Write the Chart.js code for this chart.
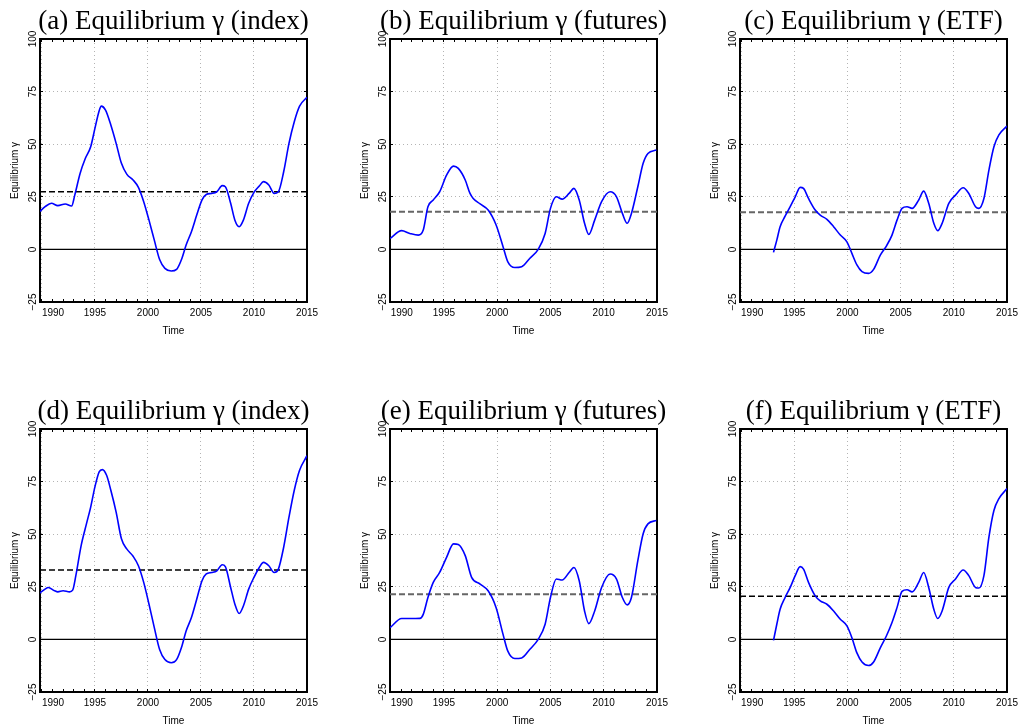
<!DOCTYPE html>
<html>
<head>
<meta charset="utf-8">
<script src="https://cdn.jsdelivr.net/npm/chart.js@4/dist/chart.umd.min.js"></script>
<style>
html, body { margin: 0; padding: 0; background: #fff; overflow: hidden; }
#page { position: relative; width: 1021px; height: 727px; }
.panel { position: absolute; }
</style>
</head>
<body>
<div id="page">
  <canvas class="panel" id="panelA" width="347" height="342" style="left:0px;top:0px"></canvas>
  <canvas class="panel" id="panelB" width="347" height="342" style="left:350px;top:0px"></canvas>
  <canvas class="panel" id="panelC" width="347" height="342" style="left:700px;top:0px"></canvas>
  <canvas class="panel" id="panelD" width="347" height="342" style="left:0px;top:390px"></canvas>
  <canvas class="panel" id="panelE" width="347" height="342" style="left:350px;top:390px"></canvas>
  <canvas class="panel" id="panelF" width="347" height="342" style="left:700px;top:390px"></canvas>
</div>
<script>
const xTicks = [1990, 1991, 1992, 1993, 1994, 1995, 1996, 1997, 1998, 1999, 2000, 2001, 2002, 2003, 2004, 2005, 2006, 2007, 2008, 2009, 2010, 2011, 2012, 2013, 2014, 2015];
const yTicks = [-25, 0, 25, 50, 75, 100];
const xMax = 2015;

// (a) index
const yearsA = [1989.8, 1990.3, 1990.9, 1991.5, 1992.2, 1992.8, 1993.1, 1993.6, 1994.1, 1994.6, 1995.0, 1995.4, 1995.6, 1996.0, 1996.5, 1997.0, 1997.5, 1998.0, 1998.6, 1999.1, 1999.6, 2000.1, 2000.6, 2001.1, 2001.6, 2002.2, 2002.7, 2003.2, 2003.6, 2004.1, 2004.6, 2005.1, 2005.5, 2006.0, 2006.5, 2007.0, 2007.3, 2007.8, 2008.2, 2008.6, 2009.0, 2009.5, 2010.0, 2010.5, 2010.9, 2011.4, 2011.9, 2012.3, 2012.8, 2013.3, 2013.8, 2014.3, 2015.0];
const gammaA = [18.0, 20.3, 21.9, 20.8, 21.6, 20.6, 25.8, 36.1, 43.3, 48.8, 57.5, 65.9, 68.1, 66.2, 59.1, 50.4, 40.9, 35.8, 33.0, 29.5, 22.7, 13.9, 4.4, -4.8, -9.0, -10.3, -9.5, -4.3, 2.1, 8.4, 16.3, 23.5, 26.1, 26.6, 27.4, 30.3, 29.8, 21.9, 13.9, 10.8, 13.9, 21.9, 27.1, 30.1, 32.2, 30.6, 26.6, 27.4, 36.9, 50.4, 60.7, 68.1, 72.3];
const meanA = 27.4;

// (b) futures
const yearsB = [1989.94, 1991.03, 1991.8, 1992.6, 1993.06, 1993.5, 1994.0, 1994.6, 1995.25, 1995.9, 1996.35, 1997.0, 1997.45, 1997.75, 1998.4, 1999.15, 1999.9, 2000.55, 2001.0, 2001.65, 2002.3, 2003.05, 2003.85, 2004.5, 2005.0, 2005.55, 2006.1, 2006.75, 2007.2, 2007.7, 2008.2, 2008.6, 2009.15, 2009.8, 2010.6, 2011.2, 2011.75, 2012.2, 2012.6, 2013.2, 2013.7, 2014.15, 2014.94];
const gammaB = [5.2, 8.9, 7.6, 6.8, 9.2, 20.3, 23.5, 27.4, 35.3, 39.6, 38.5, 33.0, 26.6, 24.2, 21.6, 18.7, 11.6, 1.3, -5.9, -8.6, -8.2, -4.3, 0.0, 7.6, 19.5, 25.0, 23.9, 26.6, 29.0, 23.5, 12.4, 7.1, 13.9, 22.7, 27.4, 25.0, 17.1, 12.4, 17.1, 29.8, 40.9, 45.6, 47.2];
const meanB = 17.9;

// (c) ETF
const yearsC = [1993.05, 1993.36, 1993.67, 1994.14, 1994.62, 1995.09, 1995.56, 1995.87, 1996.34, 1996.97, 1997.44, 1998.07, 1998.7, 1999.33, 1999.95, 2000.42, 2000.89, 2001.37, 2001.99, 2002.46, 2003.09, 2003.66, 2004.19, 2004.66, 2005.13, 2005.6, 2006.08, 2006.7, 2007.17, 2007.64, 2008.12, 2008.49, 2008.9, 2009.53, 2010.16, 2010.88, 2011.41, 2012.04, 2012.36, 2012.83, 2013.3, 2013.77, 2014.24, 2015.0];
const gammaC = [-1.4, 4.4, 10.8, 15.8, 20.3, 25.0, 29.5, 29.0, 24.2, 18.7, 16.3, 14.3, 10.8, 6.8, 3.6, -1.9, -7.4, -10.6, -11.4, -9.5, -2.7, 1.6, 6.8, 13.9, 19.5, 20.3, 19.5, 23.5, 27.7, 21.9, 12.4, 8.9, 12.4, 21.9, 25.8, 29.3, 26.6, 20.3, 19.5, 24.2, 37.7, 48.8, 54.4, 58.6];
const meanC = 17.6;

// (d) index
const yearsD = [1989.8, 1990.3, 1990.6, 1991.2, 1991.5, 1992.0, 1992.6, 1992.9, 1993.2, 1993.7, 1994.2, 1994.6, 1995.0, 1995.4, 1995.7, 1996.1, 1996.5, 1997.0, 1997.5, 1998.0, 1998.6, 1999.1, 1999.6, 2000.1, 2000.6, 2001.1, 2001.6, 2002.2, 2002.7, 2003.2, 2003.6, 2004.1, 2004.6, 2005.1, 2005.5, 2006.0, 2006.5, 2007.0, 2007.3, 2007.8, 2008.2, 2008.6, 2009.0, 2009.5, 2010.0, 2010.5, 2010.9, 2011.4, 2011.9, 2012.3, 2012.8, 2013.3, 2013.8, 2014.3, 2015.0];
const gammaD = [22.0, 23.9, 24.7, 23.1, 22.6, 23.1, 22.6, 23.4, 30.3, 44.6, 54.9, 62.9, 72.5, 79.6, 80.7, 78.0, 70.9, 60.5, 47.8, 43.0, 39.5, 35.0, 27.1, 16.7, 5.6, -4.8, -9.6, -11.1, -9.6, -3.2, 4.0, 10.4, 19.1, 27.9, 31.1, 31.8, 32.6, 35.5, 34.6, 24.7, 16.7, 12.3, 15.9, 23.9, 29.5, 34.2, 36.6, 35.0, 31.8, 33.4, 43.8, 58.1, 70.9, 80.4, 87.3];
const meanD = 33.0;

// (e) futures
const yearsE = [1989.94, 1991.03, 1991.8, 1992.75, 1993.06, 1993.5, 1994.0, 1994.6, 1995.25, 1995.9, 1996.35, 1997.0, 1997.6, 1998.4, 1999.15, 1999.9, 2000.55, 2001.0, 2001.65, 2002.3, 2003.05, 2003.85, 2004.5, 2005.0, 2005.55, 2006.1, 2006.75, 2007.2, 2007.7, 2008.2, 2008.6, 2009.15, 2009.8, 2010.6, 2011.2, 2011.75, 2012.2, 2012.6, 2013.2, 2013.7, 2014.15, 2014.94];
const gammaE = [5.6, 9.9, 9.9, 10.0, 11.9, 19.9, 27.1, 31.8, 39.0, 45.4, 45.1, 39.8, 29.5, 26.3, 23.1, 15.1, 2.4, -5.6, -9.1, -8.8, -4.8, 0.0, 7.2, 19.9, 28.7, 28.2, 31.8, 34.2, 27.9, 13.5, 7.5, 13.5, 24.7, 31.1, 28.7, 19.9, 16.4, 19.9, 37.4, 50.2, 54.9, 56.5];
const meanE = 21.5;

// (f) ETF
const yearsF = yearsC;
const gammaF = [-0.5, 7.2, 14.3, 19.9, 24.7, 30.3, 34.6, 33.4, 27.1, 20.7, 18.3, 16.7, 13.5, 9.6, 6.4, 0.8, -6.4, -10.7, -12.4, -10.7, -4.0, 1.6, 8.0, 15.1, 22.8, 23.6, 22.6, 27.1, 31.8, 24.7, 14.3, 9.9, 13.5, 24.7, 28.7, 33.0, 30.3, 24.7, 24.4, 30.3, 48.6, 61.3, 66.9, 71.7];
const meanF = 20.5;

document.addEventListener("DOMContentLoaded", function() {
    const sansFont = '"Liberation Sans", Arial, sans-serif';
    const gridGris = "#b4b4b4";
    const esMayor = v => v % 5 === 0;

    function crearPanel(canvasId, titulo, years, gamma, media, xMin, estiloMedia) {
        const ctx = document.getElementById(canvasId).getContext("2d");
        const marco = { display: true, color: "#000", width: 2 };
        // marcas pequeñas hacia dentro del recuadro
        const marcasDentro = { display: true, drawOnChartArea: false, drawTicks: true, tickLength: -3, tickColor: "#000", tickWidth: 1 };

        return new Chart(ctx, {
            type: "line",
            data: {
                datasets: [
                    {
                        data: years.map((t, i) => ({ x: t, y: gamma[i] })),
                        borderColor: "#0000ff",
                        borderWidth: 1.6,
                        pointRadius: 0,
                        cubicInterpolationMode: "monotone",
                        fill: false
                    },
                    {
                        data: [{ x: xMin, y: 0 }, { x: xMax, y: 0 }],
                        borderColor: "#000",
                        borderWidth: 1.2,
                        pointRadius: 0
                    },
                    {
                        data: [{ x: xMin, y: media }, { x: xMax, y: media }],
                        borderColor: estiloMedia.color,
                        borderWidth: estiloMedia.width,
                        borderDash: estiloMedia.dash,
                        pointRadius: 0
                    }
                ]
            },
            options: {
                responsive: false,
                animation: false,
                devicePixelRatio: 1,
                layout: { padding: 0 },
                plugins: {
                    legend: { display: false },
                    tooltip: { enabled: false },
                    title: {
                        display: true,
                        text: titulo,
                        color: "#000",
                        font: { family: '"Liberation Serif", "Times New Roman", serif', size: 27, weight: "normal" },
                        padding: { top: 6, bottom: 0.6 }
                    }
                },
                scales: {
                    x: {
                        type: "linear",
                        position: "bottom",
                        min: xMin,
                        max: xMax,
                        afterBuildTicks: s => { s.ticks = xTicks.map(v => ({ value: v })); },
                        afterFit: s => { s.height = 40; },
                        ticks: {
                            autoSkip: false,
                            maxRotation: 0,
                            padding: 8,
                            color: "#000",
                            font: { family: sansFont, size: 10 },
                            // la primera etiqueta va desplazada hacia dentro
                            callback: v => !esMayor(v) ? "" : (v === 1990 ? "        1990" : String(v))
                        },
                        grid: {
                            color: c => (c.tick && esMayor(c.tick.value)) ? gridGris : "rgba(0,0,0,0)",
                            lineWidth: 1,
                            drawTicks: true,
                            tickLength: -3,
                            tickColor: "#000",
                            tickWidth: 1
                        },
                        border: { display: true, color: "#000", width: 2, dash: [1, 3] },
                        title: {
                            display: true, text: "Time", color: "#000",
                            font: { family: sansFont, size: 10 },
                            padding: { top: 0, bottom: 5 }
                        }
                    },
                    x2: {
                        type: "linear",
                        position: "top",
                        min: xMin,
                        max: xMax,
                        afterBuildTicks: s => { s.ticks = xTicks.map(v => ({ value: v })); },
                        ticks: { display: false },
                        grid: marcasDentro,
                        border: marco,
                        afterFit: s => { s.height = 0; }
                    },
                    y: {
                        type: "linear",
                        position: "left",
                        min: -25,
                        max: 100,
                        afterBuildTicks: s => { s.ticks = yTicks.map(v => ({ value: v })); },
                        afterFit: s => { s.width = 40; },
                        ticks: {
                            minRotation: 90,
                            maxRotation: 90,
                            crossAlign: "center",
                            padding: 1,
                            color: "#000",
                            font: { family: sansFont, size: 10 },
                            callback: v => v < 0 ? "\u2212" + Math.abs(v) : String(v)
                        },
                        grid: { color: gridGris, lineWidth: 1, drawTicks: true, tickLength: -3, tickColor: "#000", tickWidth: 1 },
                        border: { display: true, color: "#000", width: 2, dash: [1, 3] },
                        title: {
                            display: true, text: "Equilibrium \u03b3", color: "#000",
                            font: { family: sansFont, size: 10 },
                            padding: { top: 9, bottom: 0 }
                        }
                    },
                    y2: {
                        type: "linear",
                        position: "right",
                        min: -25,
                        max: 100,
                        afterBuildTicks: s => { s.ticks = yTicks.map(v => ({ value: v })); },
                        ticks: { display: false },
                        grid: marcasDentro,
                        border: marco,
                        afterFit: s => { s.width = 40; }
                    }
                }
            }
        });
    }

    const mediaNegra = { color: "#000", width: 1.4, dash: [6, 3] };
    const mediaGris = { color: "#666", width: 2, dash: [6, 3] };

    crearPanel("panelA", "(a) Equilibrium \u03b3 (index)", yearsA, gammaA, meanA, 1989.82, mediaNegra);
    crearPanel("panelB", "(b) Equilibrium \u03b3 (futures)", yearsB, gammaB, meanB, 1989.94, mediaGris);
    crearPanel("panelC", "(c) Equilibrium \u03b3 (ETF)", yearsC, gammaC, meanC, 1989.9, mediaGris);
    crearPanel("panelD", "(d) Equilibrium \u03b3 (index)", yearsD, gammaD, meanD, 1989.82, mediaNegra);
    crearPanel("panelE", "(e) Equilibrium \u03b3 (futures)", yearsE, gammaE, meanE, 1989.94, mediaGris);
    crearPanel("panelF", "(f) Equilibrium \u03b3 (ETF)", yearsF, gammaF, meanF, 1989.9, mediaNegra);
});
</script>
</body>
</html>
